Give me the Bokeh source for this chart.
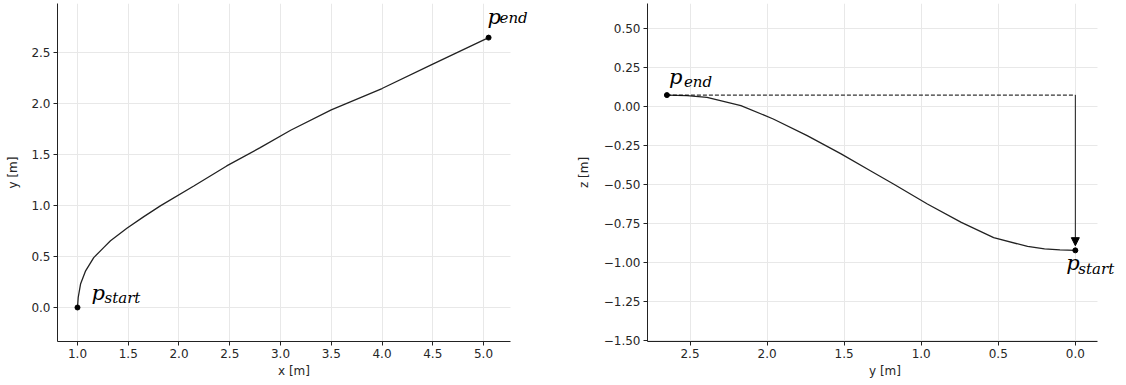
from bokeh.plotting import figure
from bokeh.layouts import row
from bokeh.models import Range1d, FixedTicker, Arrow, NormalHead, Label
from bokeh.embed import file_html
from bokeh.resources import INLINE

# ---------- data: left panel (x-y plane) ----------
xy_x = [1.0, 1.007, 1.03, 1.08, 1.16, 1.26, 1.325, 1.49, 1.65, 1.82, 2.15, 2.47, 2.80, 3.10, 3.5, 4.0, 4.5, 5.05]
xy_y = [0.0, 0.098, 0.23, 0.36, 0.49, 0.59, 0.655, 0.78, 0.89, 1.0, 1.196, 1.39, 1.57, 1.74, 1.94, 2.15, 2.39, 2.65]
xy_start = (1.0, 0.0)
xy_end = (5.05, 2.65)
left_xticks = [1.0, 1.5, 2.0, 2.5, 3.0, 3.5, 4.0, 4.5, 5.0]
left_xlabels = ["1.0", "1.5", "2.0", "2.5", "3.0", "3.5", "4.0", "4.5", "5.0"]
left_yticks = [0.0, 0.5, 1.0, 1.5, 2.0, 2.5]
left_ylabels = ["0.0", "0.5", "1.0", "1.5", "2.0", "2.5"]

# ---------- data: right panel (y-z plane) ----------
yz_y = [2.65, 2.52, 2.39, 2.17, 1.96, 1.74, 1.52, 1.33, 1.18, 0.96, 0.74, 0.53, 0.31, 0.20, 0.10, 0.0]
yz_z = [0.075, 0.072, 0.061, 0.008, -0.078, -0.185, -0.302, -0.41, -0.495, -0.623, -0.741, -0.838, -0.895, -0.910, -0.917, -0.92]
yz_start = (0.0, -0.92)
yz_end = (2.65, 0.075)
arrow_tip_z = -0.89
right_xticks = [2.5, 2.0, 1.5, 1.0, 0.5, 0.0]
right_xlabels = ["2.5", "2.0", "1.5", "1.0", "0.5", "0.0"]
right_yticks = [0.5, 0.25, 0.0, -0.25, -0.5, -0.75, -1.0, -1.25, -1.5]
right_ylabels = ["0.50", "0.25", "0.00", "\u22120.25", "\u22120.50", "\u22120.75", "\u22121.00", "\u22121.25", "\u22121.50"]

TXT = "#262626"
LINE = "#222222"
GRID = "#e8e8e8"


def style(p, xt, xl, yt, yl, xlab, ylab, ystand, xb):
    p.xaxis.ticker = FixedTicker(ticks=xt)
    p.yaxis.ticker = FixedTicker(ticks=yt)
    p.xaxis.major_label_overrides = dict(zip(xt, xl))
    p.yaxis.major_label_overrides = dict(zip(yt, yl))
    p.xaxis.axis_label = xlab
    p.yaxis.axis_label = ylab
    p.xaxis.bounds = xb
    for ax in (p.xaxis[0], p.yaxis[0]):
        ax.axis_line_color = LINE
        ax.axis_line_width = 1
        ax.major_tick_line_color = LINE
        ax.major_tick_out = 4
        ax.major_tick_in = 0
        ax.minor_tick_line_color = None
        ax.major_label_text_font = "DejaVu Sans"
        ax.major_label_text_font_size = "12px"
        ax.major_label_text_color = TXT
        ax.axis_label_text_font = "DejaVu Sans"
        ax.axis_label_text_font_size = "12px"
        ax.axis_label_text_font_style = "normal"
        ax.axis_label_text_color = TXT
        ax.major_label_standoff = 3
    p.xaxis.axis_label_standoff = 3
    p.yaxis.axis_label_standoff = ystand
    p.xgrid.ticker = FixedTicker(ticks=xt)
    p.ygrid.ticker = FixedTicker(ticks=yt)
    p.ygrid.cross_bounds = xb
    for g in (p.xgrid[0], p.ygrid[0]):
        g.grid_line_color = GRID
        g.grid_line_width = 1
    p.outline_line_color = None
    p.background_fill_color = "white"
    p.border_fill_color = "white"


def label(p, pt, sub, dx_p, dy_p, dx_s, dy_s):
    p.add_layout(Label(x=pt[0], y=pt[1], text="p", x_offset=dx_p, y_offset=-dy_p,
                       text_font="DejaVu Serif", text_font_style="italic",
                       text_font_size="21px", text_color="black",
                       text_baseline="alphabetic", text_align="left"))
    p.add_layout(Label(x=pt[0], y=pt[1], text=sub, x_offset=dx_s, y_offset=-dy_s,
                       text_font="DejaVu Serif", text_font_style="italic",
                       text_font_size="15px", text_color="black",
                       text_baseline="alphabetic", text_align="left"))


# ---------- left figure ----------
p1 = figure(width=572, height=383, output_backend="svg", toolbar_location=None,
            x_range=Range1d(0.803, 5.463), y_range=Range1d(-0.334, 2.985),
            min_border_left=57, min_border_right=42, min_border_top=3, min_border_bottom=42)
style(p1, left_xticks, left_xlabels, left_yticks, left_ylabels, "x [m]", "y [m]", 8, (0.803, 5.266))
p1.line(xy_x, xy_y, line_color=LINE, line_width=1.3)
p1.scatter([xy_start[0], xy_end[0]], [xy_start[1], xy_end[1]], size=5, color="black")
label(p1, xy_end, "end", -1, -21, 11, -20)
label(p1, xy_start, "start", 14, -14, 27, -9)

# ---------- right figure ----------
p2 = figure(width=550, height=383, output_backend="svg", toolbar_location=None,
            x_range=Range1d(2.776, -0.306), y_range=Range1d(-1.504, 0.662),
            min_border_left=75, min_border_right=0, min_border_top=3, min_border_bottom=42)
style(p2, right_xticks, right_xlabels, right_yticks, right_ylabels, "y [m]", "z [m]", 10, (-0.143, 2.776))
p2.line(yz_y, yz_z, line_color=LINE, line_width=1.3)
p2.line([yz_end[0], yz_start[0]], [yz_end[1], yz_end[1]], line_color="black",
        line_width=1, line_dash="4 2")
p2.add_layout(Arrow(end=NormalHead(size=8, fill_color="black", line_color="black", line_width=1),
                    x_start=yz_start[0], y_start=yz_end[1], x_end=yz_start[0], y_end=arrow_tip_z,
                    line_color="black", line_width=0.9))
p2.scatter([yz_start[0], yz_end[0]], [yz_start[1], yz_end[1]], size=5, color="black")
label(p2, yz_end, "end", 2, -18, 17, -13)
label(p2, yz_start, "start", -9, 13, 3, 19)

layout = row(p1, p2)
open("out.html", "w").write(file_html(layout, INLINE))
